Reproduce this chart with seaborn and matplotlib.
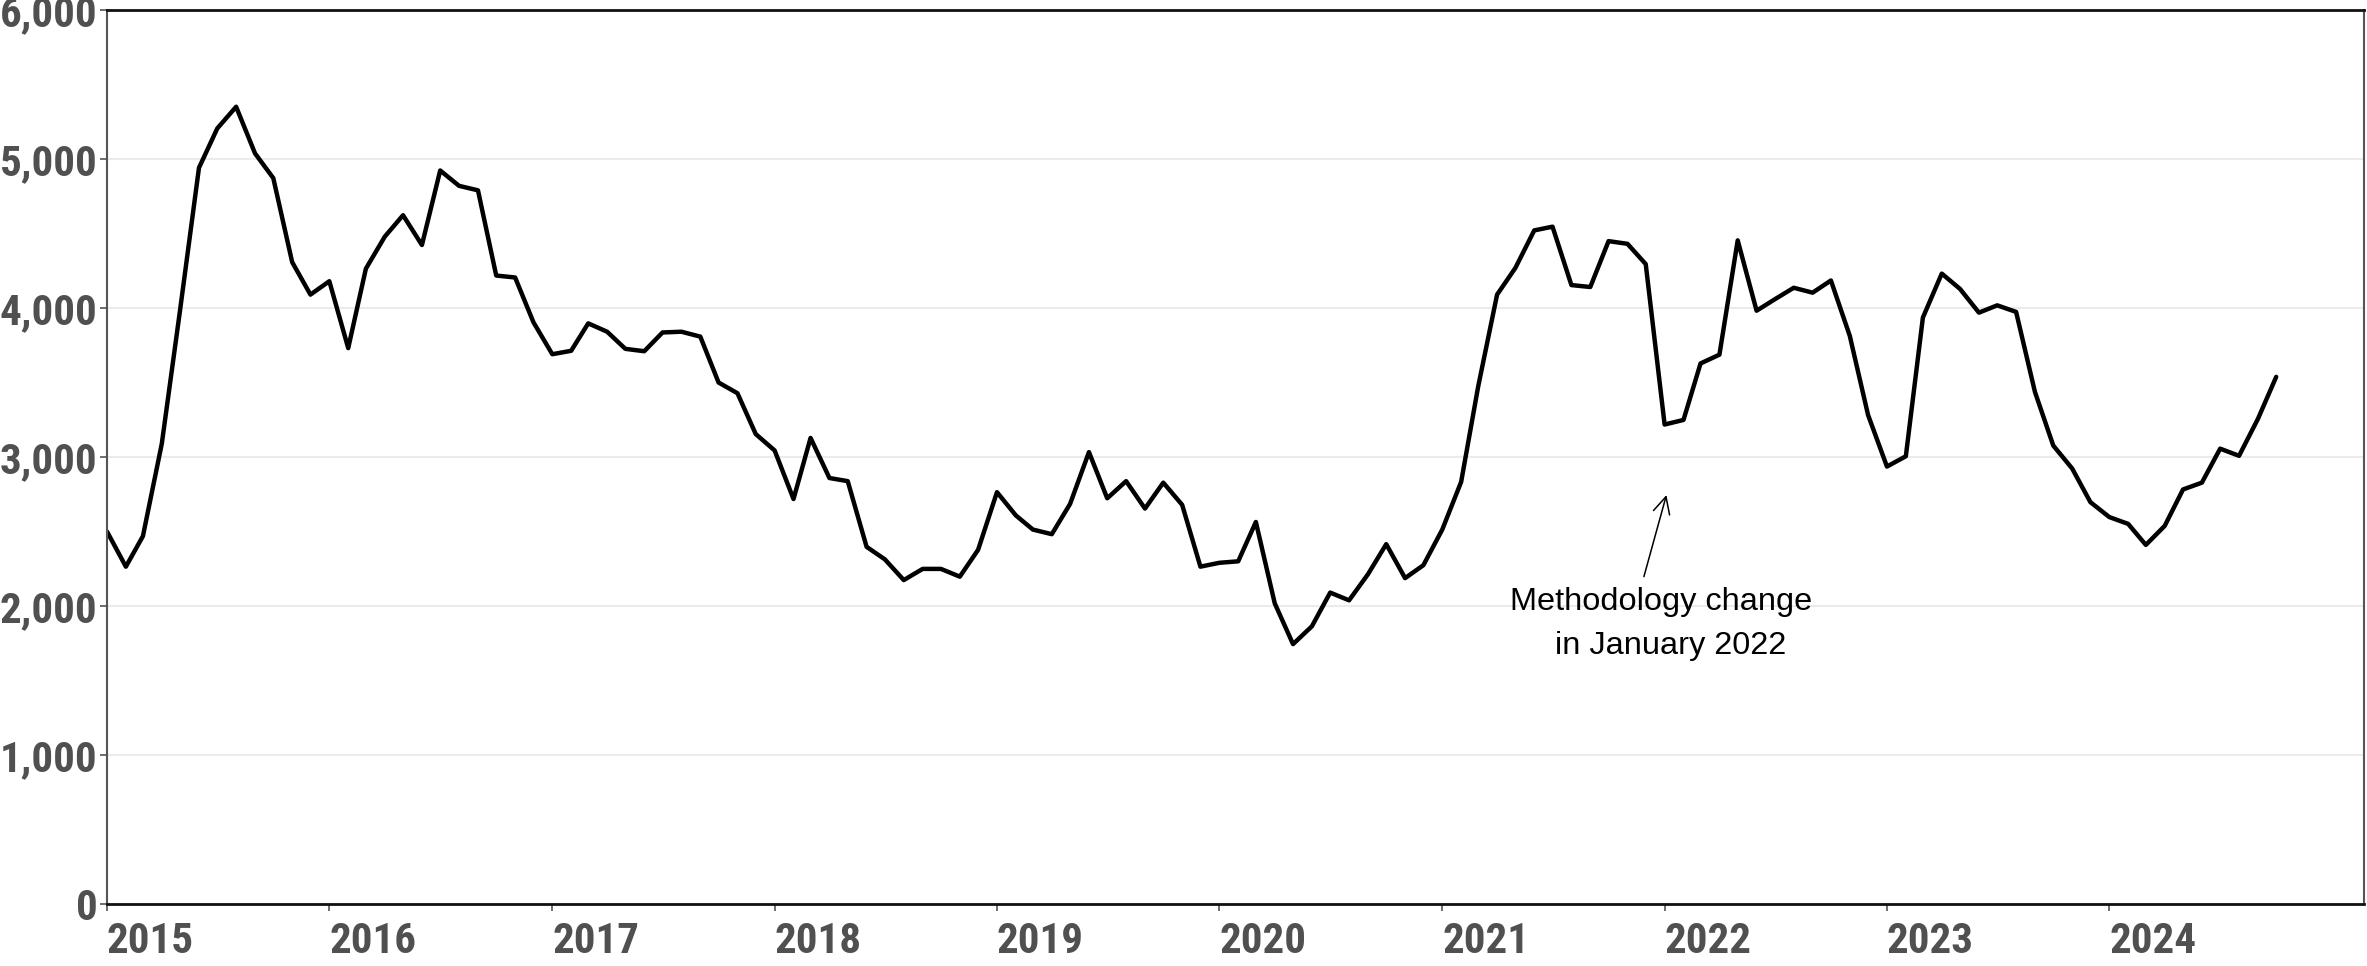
import matplotlib
matplotlib.use("Agg")
import matplotlib.pyplot as plt
import matplotlib.ticker as mticker
from matplotlib import font_manager
import seaborn as sns
import pandas as pd

# ---- data ----
start_month = "2015-01-01"
values_2015 = [2500, 2264, 2469, 3090, 3987, 4941, 5205, 5351, 5038, 4872, 4308, 4090]
values_2016 = [4180, 3731, 4264, 4479, 4623, 4423, 4923, 4820, 4790, 4218, 4205, 3905]
values_2017 = [3690, 3713, 3897, 3841, 3726, 3710, 3836, 3841, 3808, 3500, 3428, 3154]
values_2018 = [3044, 2718, 3128, 2859, 2838, 2397, 2313, 2174, 2249, 2249, 2197, 2377]
values_2019 = [2764, 2608, 2513, 2482, 2685, 3033, 2723, 2838, 2654, 2828, 2679, 2264]
values_2020 = [2290, 2300, 2564, 2018, 1744, 1864, 2090, 2038, 2213, 2415, 2187, 2274]
values_2021 = [2513, 2833, 3474, 4090, 4269, 4521, 4546, 4154, 4141, 4449, 4431, 4295]
values_2022 = [3218, 3249, 3628, 3687, 4454, 3982, 4059, 4136, 4103, 4185, 3813, 3282]
values_2023 = [2936, 3005, 3936, 4231, 4128, 3969, 4018, 3974, 3436, 3077, 2923, 2697]
values_2024 = [2597, 2551, 2410, 2538, 2782, 2828, 3056, 3008, 3256, 3538]

year_ticks = [str(y) for y in range(2015, 2025)]
y_ticks = [0, 1000, 2000, 3000, 4000, 5000, 6000]
annotation_text = "Methodology change\n  in January 2022"

values = (values_2015 + values_2016 + values_2017 + values_2018 + values_2019 +
          values_2020 + values_2021 + values_2022 + values_2023 + values_2024)
dates = pd.date_range(start_month, periods=len(values), freq="MS")
df = pd.DataFrame({"date": dates, "value": values})

# ---- pick a condensed font for tick labels ----
available = {f.name for f in font_manager.fontManager.ttflist}
prefs = ["Liberation Sans Narrow", "Arial Narrow", "Roboto Condensed",
         "Noto Sans Condensed", "Open Sans Condensed", "Open Sans Condensed Bold",
         "Noto Sans Display Condensed"]
tick_family = None
for p in prefs:
    if p in available:
        tick_family = p
        break
tick_stretch = "normal"
if tick_family is None:
    tick_family = "DejaVu Sans"
    tick_stretch = "condensed"
    tick_size = 27
else:
    tick_size = 31

# ---- style ----
sns.set_theme(style="white")
plt.rcParams["font.family"] = ["Liberation Sans", "DejaVu Sans"]

fig = plt.figure(figsize=(23.67, 9.66), dpi=100)
ax = fig.add_axes([0.0452, 0.0642, 0.9535, 0.9254])

sns.lineplot(data=df, x="date", y="value", color="black", linewidth=3.2, ax=ax)

ax.set_ylim(0, 6000)
ax.set_xlim(pd.Timestamp("2015-01-01"), pd.Timestamp("2025-02-22"))
ax.set_yticks(y_ticks)
ax.yaxis.set_major_formatter(mticker.FuncFormatter(lambda v, p: f"{int(v):,}"))
ax.set_xticks([pd.Timestamp(f"{y}-01-01") for y in year_ticks])
ax.set_xticklabels(year_ticks, ha="left")

ax.grid(axis="y", color="#ebebeb", linewidth=1.5)
ax.grid(axis="x", visible=False)
ax.set_axisbelow(True)
ax.set_xlabel("")
ax.set_ylabel("")

for lbl in ax.get_xticklabels() + ax.get_yticklabels():
    lbl.set_family([tick_family, "DejaVu Sans"])
    lbl.set_stretch(tick_stretch)
    lbl.set_fontweight("bold")
    lbl.set_fontsize(tick_size)
    lbl.set_color("#505050")

ax.tick_params(axis="both", which="major", length=5, width=1.2, color="#555555",
               direction="out", bottom=True, left=True)
ax.tick_params(axis="y", pad=2)
ax.tick_params(axis="x", pad=7)

for side in ["left", "right"]:
    ax.spines[side].set_color("#555555")
    ax.spines[side].set_linewidth(1.5)
for side in ["top", "bottom"]:
    ax.spines[side].set_color("#111111")
    ax.spines[side].set_linewidth(2.0)

# ---- annotation ----
ax.annotate("", xy=(pd.Timestamp("2022-01-04"), 2745),
            xytext=(pd.Timestamp("2021-11-28"), 2197),
            arrowprops=dict(arrowstyle="->", color="black", lw=1.1,
                            mutation_scale=30, shrinkA=0, shrinkB=0))
ax.text(pd.Timestamp("2021-12-27"), 1880, annotation_text, ha="center", va="center",
        fontsize=23.4, color="black", linespacing=1.6,
        family=["Liberation Sans", "DejaVu Sans"])

fig.savefig("out.png", dpi=100)
